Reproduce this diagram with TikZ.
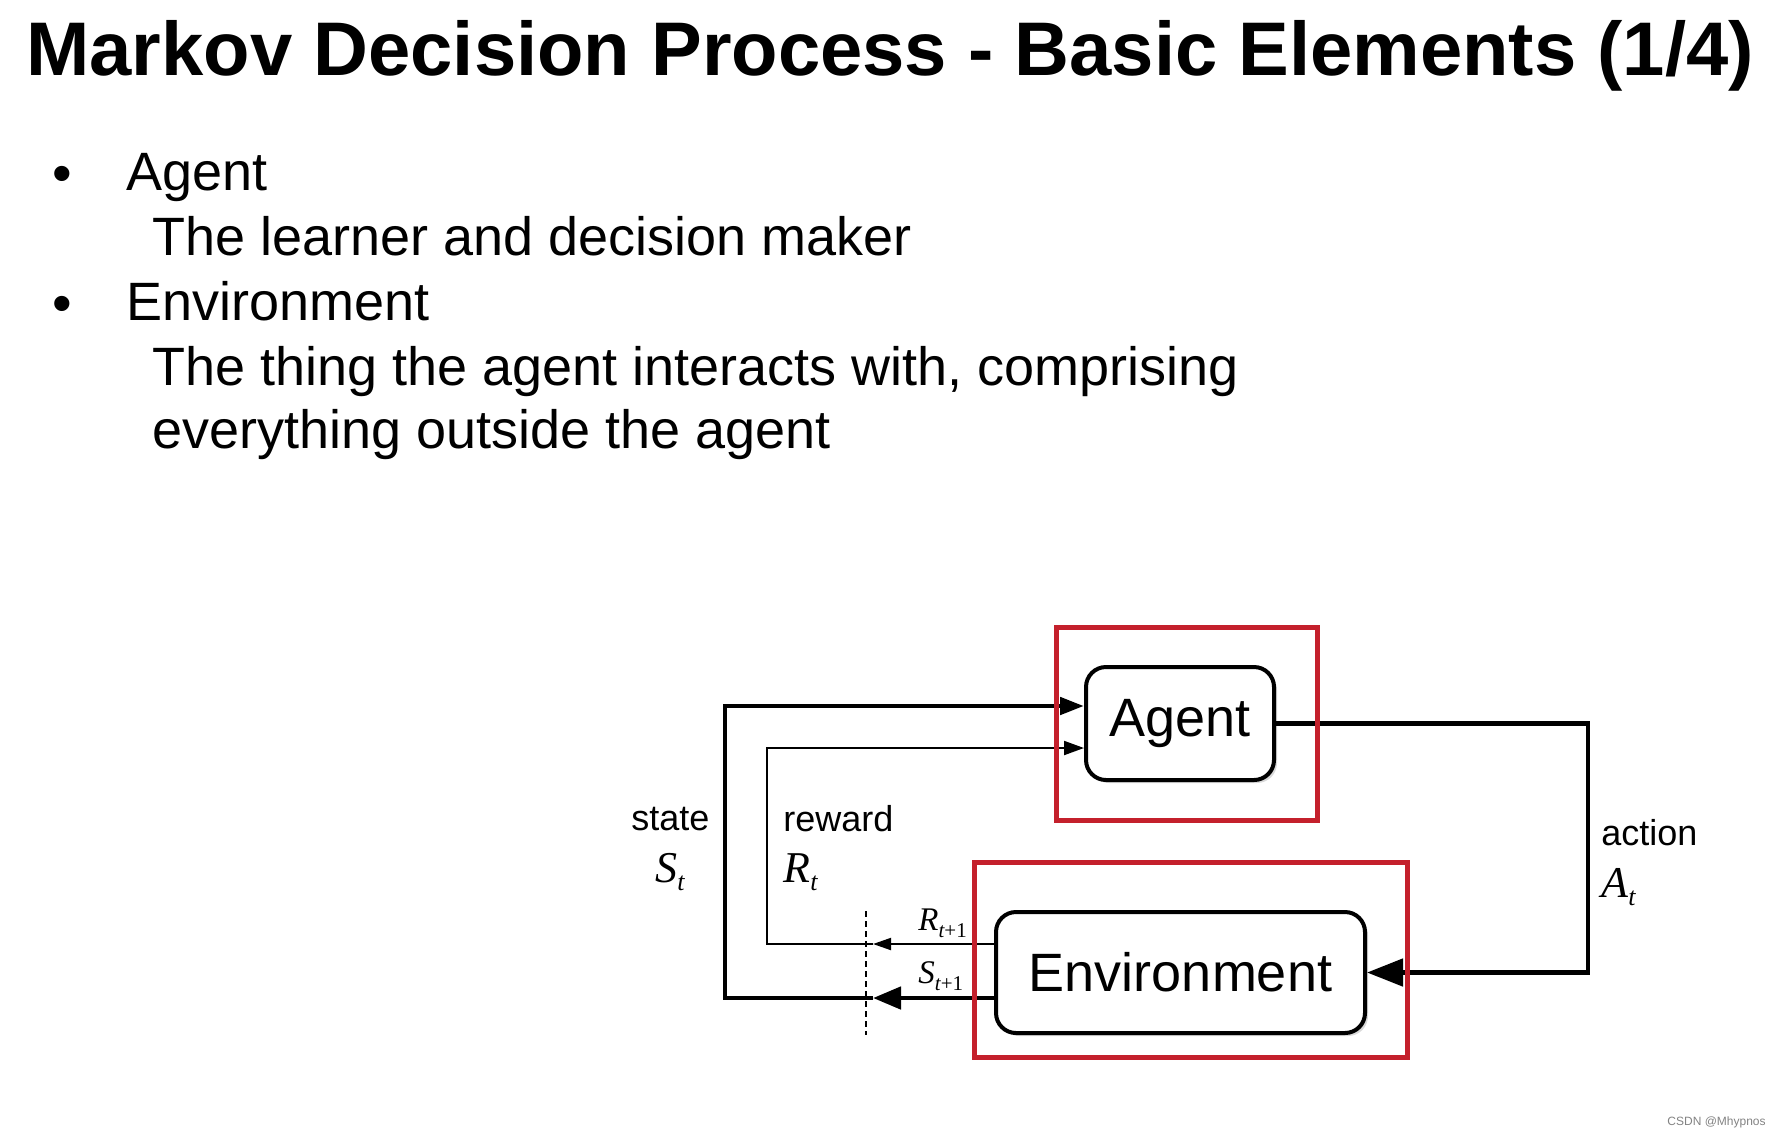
\documentclass[tikz,border=0pt]{standalone}
\usepackage{fontspec}
\setmainfont{Liberation Sans}
\newfontfamily\timesfont{Liberation Serif}
\usetikzlibrary{arrows.meta,shadows}

\newcommand{\symsub}[4]{{\timesfont\itshape #1}\raisebox{-#4}{\timesfont\fontsize{#3}{#3}\selectfont #2}}

\begin{document}
\begin{tikzpicture}[
        x=0.5pt, y=-0.5pt,
        title_node/.style={anchor=base west, inner sep=0pt, font=\fontsize{38pt}{40pt}\selectfont\bfseries},
        body_node/.style={anchor=base west, inner sep=0pt, font=\fontsize{27pt}{30pt}\selectfont},
        bullet_node/.style={inner sep=0pt, font=\fontsize{28pt}{30pt}\selectfont},
        label_node/.style={anchor=base west, inner sep=0pt, font=\fontsize{18pt}{20pt}\selectfont},
        sym_node/.style={anchor=base west, inner sep=0pt, font=\fontsize{22pt}{24pt}\selectfont},
        small_label/.style={anchor=base west, inner sep=0pt, font=\fontsize{16.5pt}{18pt}\selectfont},
        box/.style={draw=black, line width=2pt, rounded corners=10pt, fill=white, font=\fontsize{27pt}{30pt}\selectfont,
            drop shadow={shadow xshift=1.5pt, shadow yshift=-1.5pt, opacity=0.3}},
        frame_box/.style={draw=myred, line width=2.75pt, inner sep=0pt},
        thick_edge/.style={line width=2.4pt, draw=black},
        thin_edge/.style={line width=1pt, draw=black},
        cut_line/.style={line width=0.6pt, draw=black, dash pattern=on 3pt off 2pt}
    ]

        \definecolor{myred}{RGB}{196, 32, 44}
        \definecolor{csdngray}{RGB}{130, 130, 130}

        \useasboundingbox (0,0) rectangle (1780,1136);

        \node[title_node] (title) at (26,75) {Markov Decision Process - Basic Elements (1/4)};

        \node[bullet_node] (b1) at (62,179.5) {•};
        \node[body_node] (agenthead) at (126,190) {Agent};
        \node[body_node] (agenttext) at (152,255) {The learner and decision maker};

        \node[bullet_node] (b2) at (62,309.5) {•};
        \node[body_node] (envhead) at (126,320) {Environment};
        \node[body_node] (envtext1) at (152,385) {The thing the agent interacts with, comprising};
        \node[body_node] (envtext2) at (152,448) {everything outside the agent};

        \node[box, minimum width=94pt, minimum height=56.5pt] (agent) at (1180,723.5) {Agent};
        \node[box, minimum width=184.5pt, minimum height=60.5pt] (env) at (1180.5,972.5) {Environment};

        \coordinate (stateturn) at (725,706);
        \coordinate (rewardturn) at (767,748);
        \coordinate (statecut) at (873,998);
        \coordinate (rewardcut) at (873,944);
        \coordinate (actionturn) at (1588,850);
        \coordinate (cuttop) at (866,911);
        \coordinate (cutbottom) at (866,1035);

        \draw[thick_edge, -{Triangle[length=14pt, width=11pt]}] (env.west |- statecut) -- (statecut);
        \draw[thick_edge, -{Triangle[length=12pt, width=8.5pt]}] (statecut) -| (stateturn) -- (stateturn -| agent.west);

        \draw[thin_edge, -{Triangle[length=9pt, width=6pt]}] (env.west |- rewardcut) -- (rewardcut);
        \draw[thin_edge, -{Triangle[length=10pt, width=7pt]}] (rewardcut) -| (rewardturn) -- (rewardturn -| agent.west);

        \draw[thick_edge, -{Triangle[length=18pt, width=13.5pt]}] (agent.east) -| (actionturn) |- (env.east);

        \draw[cut_line] (cuttop) -- (cutbottom);

        \node[label_node] (statelbl) at (631,830) {state};
        \node[sym_node] (statesym) at (655,882) {\symsub{S}{\itshape t}{13pt}{4pt}};
        \node[label_node] (rewardlbl) at (783,831) {reward};
        \node[sym_node] (rewardsym) at (783,882) {\symsub{R}{\itshape t}{13pt}{4pt}};
        \node[label_node] (actionlbl) at (1601,845) {action};
        \node[sym_node] (actionsym) at (1601,897) {\symsub{A}{\itshape t}{13pt}{4pt}};
        \node[small_label] (rnext) at (918,930) {\symsub{R}{{\itshape t}+1}{10.5pt}{3.5pt}};
        \node[small_label] (snext) at (918,983) {\symsub{S}{{\itshape t}+1}{10.5pt}{3.5pt}};

        \node[frame_box, minimum width=130.5pt, minimum height=96.5pt] (agentframe) at (1187,724) {};
        \node[frame_box, minimum width=216.5pt, minimum height=97.5pt] (envframe) at (1191,960) {};

        \node[anchor=base west, inner sep=0pt, font=\fontsize{6pt}{7pt}\selectfont, text=csdngray] (credit) at (1667,1125) {CSDN @Mhypnos};
    \end{tikzpicture}
\end{document}
